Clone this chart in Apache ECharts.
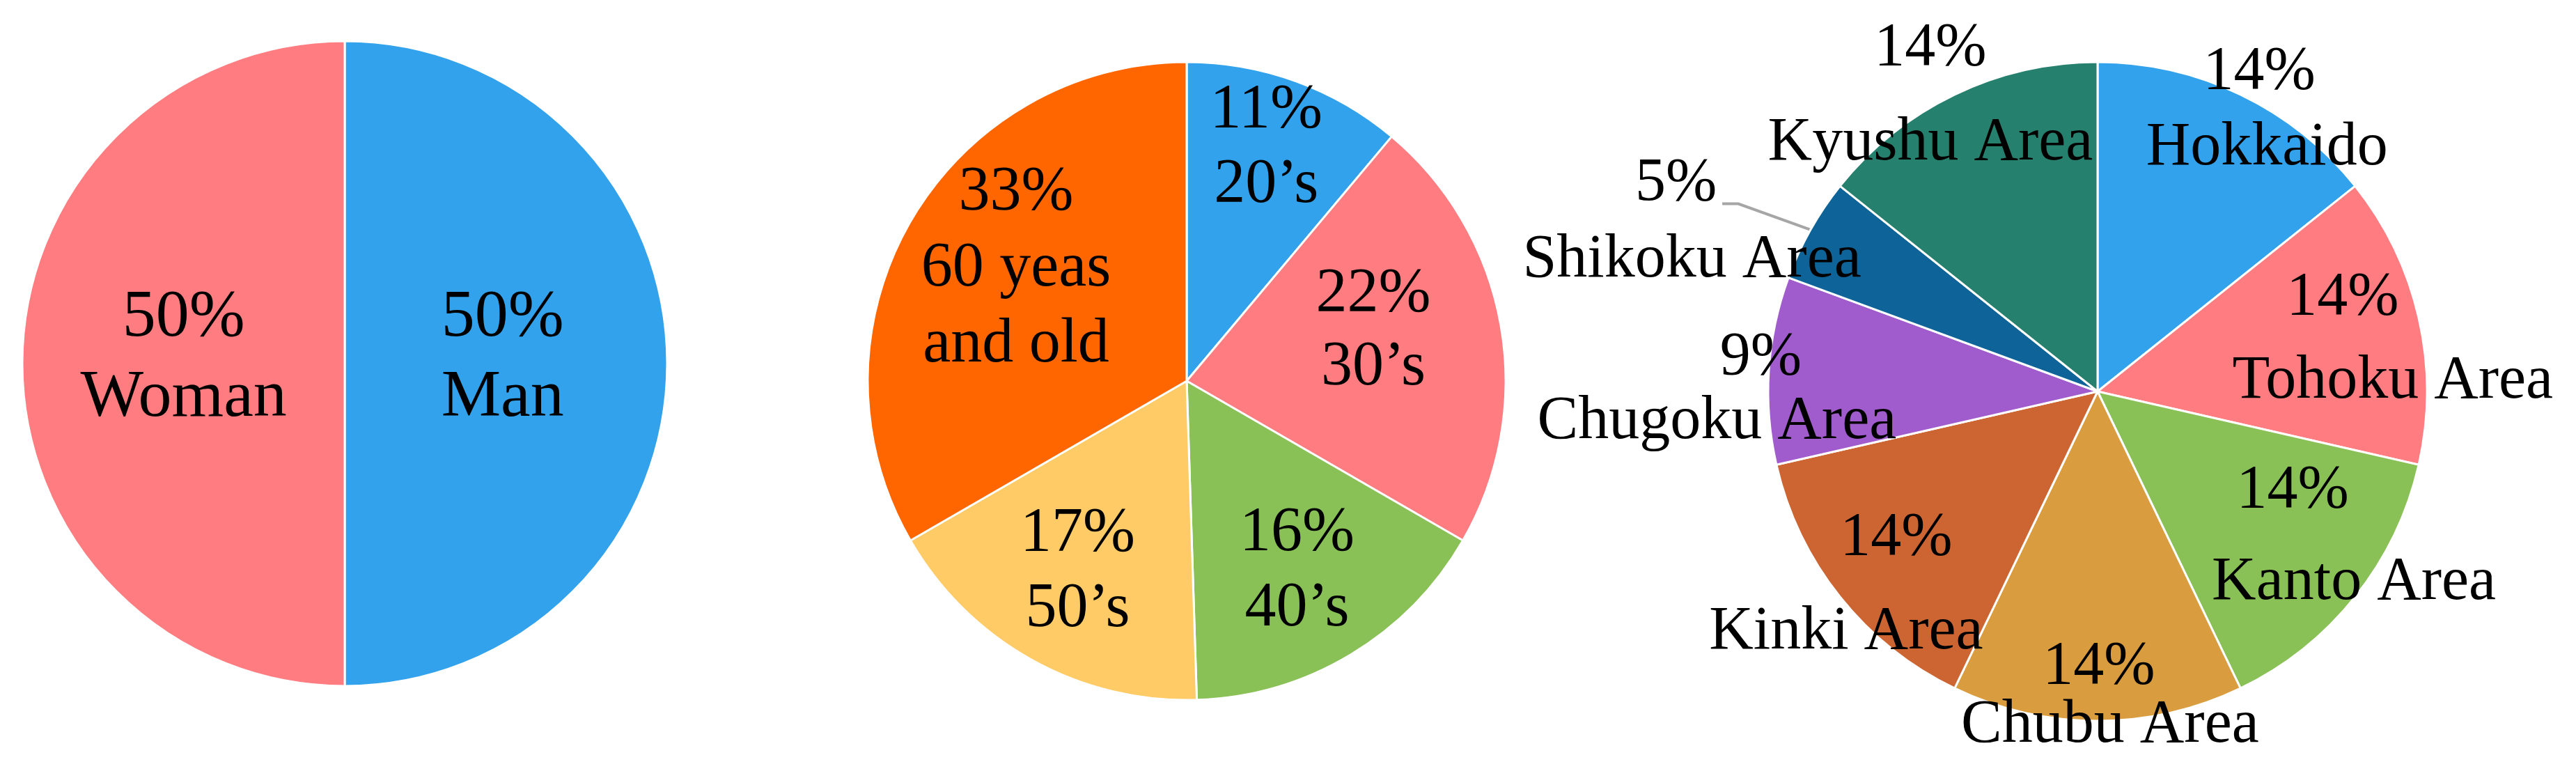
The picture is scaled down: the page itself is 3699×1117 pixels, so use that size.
<!DOCTYPE html>
<html>
<head>
<meta charset="utf-8">
<script src="https://cdn.jsdelivr.net/npm/echarts/dist/echarts.min.js"></script>
<style>
  html, body { margin: 0; padding: 0; background: #fff; }
  #chart { width: 3699px; height: 1117px; }
</style>
</head>
<body>
<div id="chart"></div>
<script>
  // 性别
  var genderNames = ['Man', 'Woman'];
  var genderValues = [50, 50];

  // 年龄
  var ageNames = ['20’s', '30’s', '40’s', '50’s', '60 yeas\nand old'];
  var ageValues = [11, 22, 16, 17, 33];

  // 地区
  var areaNames = ['Hokkaido', 'Tohoku Area', 'Kanto Area', 'Chubu Area', 'Kinki Area',
    'Chugoku Area', 'Shikoku Area', 'Kyushu Area'];
  var areaValues = [14, 14, 14, 14, 14, 9, 5, 14];

  var BLUE = '#31A2EB', PINK = '#FF7C80', GREEN = '#89C157', YELLOW = '#FECB67', ORANGE = '#FF6600';

  // label tweaks: [radius factor, angle shift (deg), line height, first line shift (px)]
  var genderTweaks = [[0.49, -2, 115, 0], [0.5, 2, 115, 0]];
  var ageTweaks = [[0.77, -1.1, 107, 0], [0.605, -4.8, 105, 0], [0.69, 0.8, 108, 0],
    [0.69, 0.6, 108, 0], [0.64, 3.3, 109, 0]];
  var areaTweaks = [[0.99, 4.8, 109, -11], [0.835, 2, 120, -72], [0.815, -5.8, 132, -88],
    [0.926, -1.3, 84, -16], [0.905, -2, 135, 72], [1.089, -3.4, 92, 63],
    [1.357, -7.1, 110, -23], [1.03, -3.8, 136, 0]];

  var FONT = "'Liberation Serif', 'Times New Roman', serif";
  var LEADER_STYLE = {color: '#A6A6A6', width: 4};

  function midAngle(values, i) {
    var total = values.reduce(function (a, b) { return a + b; }, 0);
    var before = 0;
    for (var k = 0; k < i; k++) before += values[k];
    return (before + values[i] / 2) / total * 360;
  }

  function makePie(names, values, colors, center, radius, fontSize, tweaks, leaderIdx, leader) {
    var data = names.map(function (n, i) {
      var t = tweaks[i];
      var padP = t[3] < 0 ? [0, -2 * t[3], 0, 0] : [0, 0, 0, 2 * t[3]];
      var item = {
        name: n,
        value: values[i],
        itemStyle: {color: colors[i]},
        label: {
          lineHeight: t[2],
          rich: {p: {lineHeight: t[2], padding: padP}, n: {lineHeight: t[2]}}
        }
      };
      if (i === leaderIdx) {
        item.label.position = 'outside';
        item.labelLine = {show: true, lineStyle: LEADER_STYLE};
      }
      return item;
    });

    return {
      type: 'pie',
      center: center,
      radius: radius,
      startAngle: 90,
      clockwise: true,
      avoidLabelOverlap: false,
      animation: false,
      itemStyle: {borderColor: '#fff', borderWidth: 3},
      label: {
        show: true,
        position: 'inside',
        color: '#000',
        fontFamily: FONT,
        fontSize: fontSize,
        formatter: function (p) {
          return '{p|' + Math.round(p.percent) + '%}\n{n|' + p.name + '}';
        },
        rich: {
          p: {color: '#000', fontFamily: FONT, fontSize: fontSize},
          n: {color: '#000', fontFamily: FONT, fontSize: fontSize}
        }
      },
      labelLine: {show: false, lineStyle: LEADER_STYLE},
      emphasis: {disabled: true},
      data: data,
      labelLayout: function (params) {
        var t = tweaks[params.dataIndex];
        var mid = midAngle(values, params.dataIndex);
        var a = (mid + t[1]) * Math.PI / 180;
        // 两行文字的中点
        var xm = center[0] + t[0] * radius * Math.sin(a);
        var ym = center[1] - t[0] * radius * Math.cos(a);
        var res = {x: xm - t[3] / 2, y: ym, align: 'center', verticalAlign: 'middle'};
        if (params.dataIndex === leaderIdx) {
          var a0 = mid * Math.PI / 180;
          var p0 = [center[0] + radius * Math.sin(a0), center[1] - radius * Math.cos(a0)];
          var p2 = [xm + leader[0], ym + leader[1]];
          res.labelLinePoints = [p0, [p2[0] + leader[2], p2[1]], p2];
        }
        return res;
      }
    };
  }

  var chart = echarts.init(document.getElementById('chart'));
  chart.setOption({
    backgroundColor: '#fff',
    series: [
      makePie(genderNames, genderValues, [BLUE, PINK], [495, 522], 463, 96, genderTweaks, -1),
      makePie(ageNames, ageValues, [BLUE, PINK, GREEN, YELLOW, ORANGE], [1704, 547], 458, 90, ageTweaks, -1),
      makePie(areaNames, areaValues,
        [BLUE, PINK, GREEN, '#D99C3F', '#CD6533', '#A05CCD', '#0E6399', '#26806E'],
        [3012, 562], 473, 88, areaTweaks, 6, [55, -26, 23])
    ]
  });
</script>
</body>
</html>
